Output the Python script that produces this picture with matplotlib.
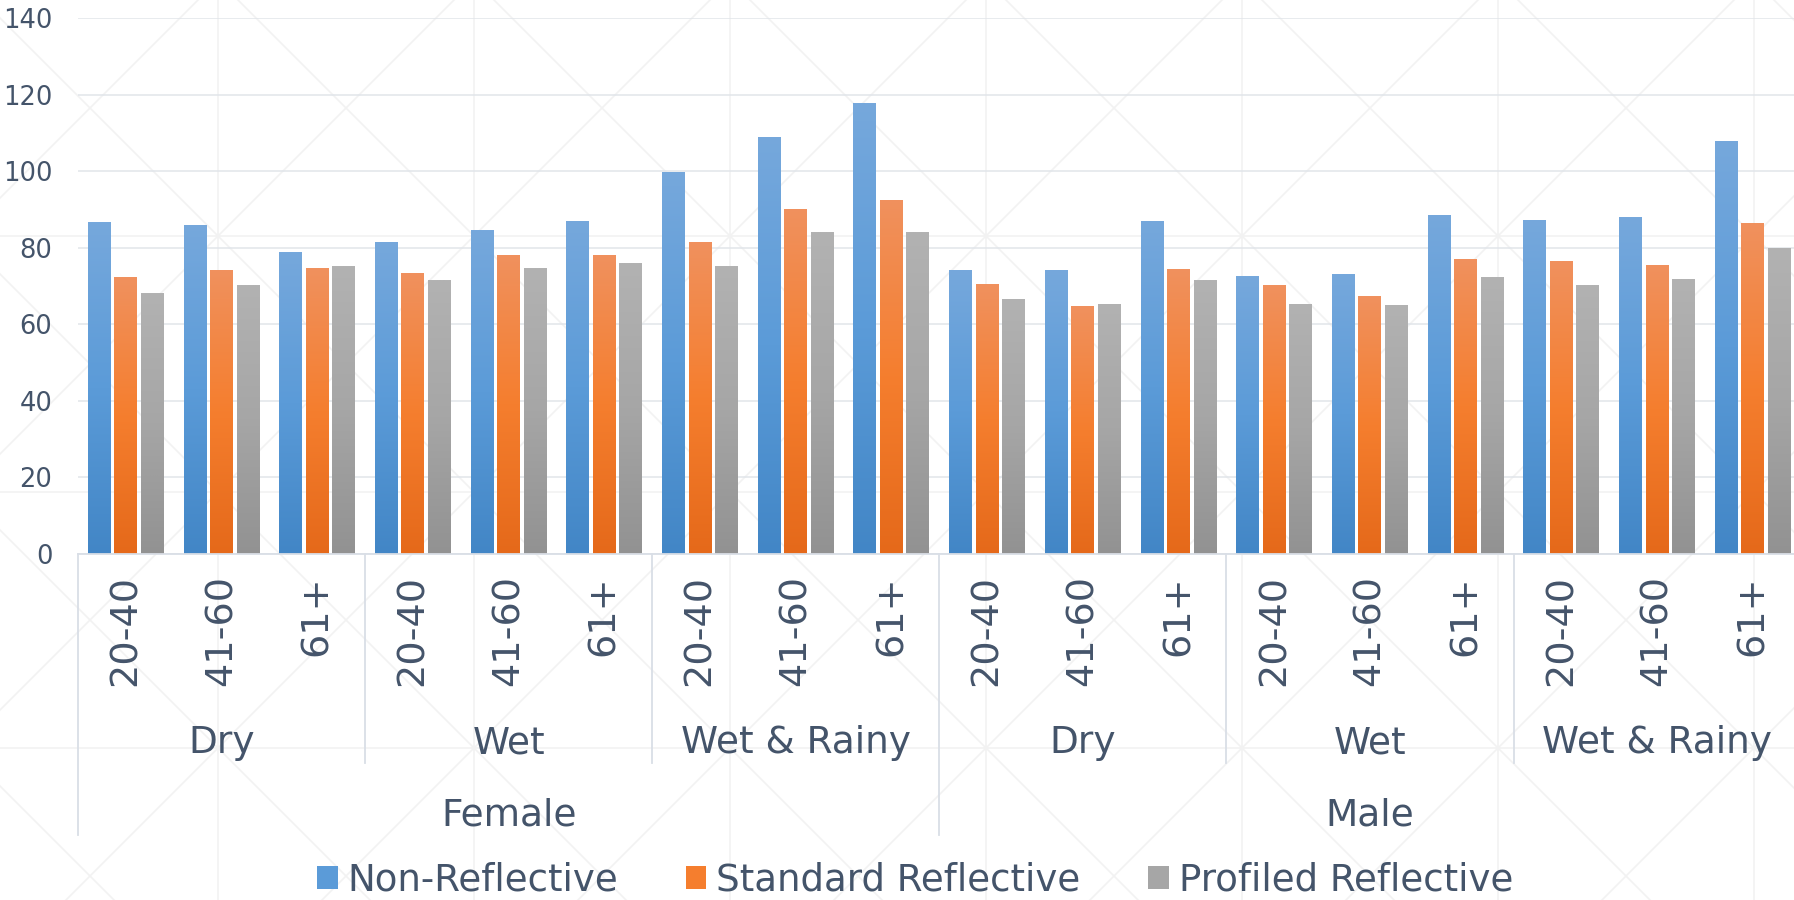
import numpy as np
import matplotlib
matplotlib.use("Agg")
import matplotlib.pyplot as plt
from matplotlib.colors import LinearSegmentedColormap
from matplotlib.lines import Line2D
from matplotlib.patches import Patch
import matplotlib.transforms as mtransforms

# data
genders = ["Female", "Male"]
conditions = ["Dry", "Wet", "Wet & Rainy"]
age_groups = ["20-40", "41-60", "61+"]
series_names = ["Non-Reflective", "Standard Reflective", "Profiled Reflective"]

non_reflective = [86.7, 86.0, 78.8, 81.5, 84.6, 87.0, 99.8, 109.0, 117.7,
                  74.2, 74.2, 87.0, 72.6, 73.1, 88.6, 87.3, 88.0, 108.0]
standard_reflective = [72.3, 74.2, 74.6, 73.3, 78.1, 78.1, 81.5, 90.2, 92.5,
                       70.5, 64.7, 74.4, 70.2, 67.3, 77.1, 76.5, 75.5, 86.4]
profiled_reflective = [68.1, 70.2, 75.2, 71.5, 74.6, 75.9, 75.2, 84.1, 84.1,
                       66.6, 65.4, 71.5, 65.3, 65.0, 72.3, 70.2, 71.8, 80.0]

# gradient colours (bottom, middle, top)
gradients = [
    ("#4286c6", "#5b9bd8", "#76a8dc"),
    ("#e5691a", "#f57e2e", "#f0915e"),
    ("#929292", "#a6a6a6", "#b2b2b2"),
]
text_col = "#44546a"
line_col = "#d9dee6"

W, H = 1794, 900
fig = plt.figure(figsize=(W / 100, H / 100), dpi=100)

# faint background pattern
bg = fig.add_axes([0, 0, 1, 1], zorder=0)
bg.axis("off")
pat = "#f2f2f2"
for k in range(-2, 10):
    bg.axvline(218 + k * 256, color=pat, lw=1.2)
    bg.axhline(236 + k * 256, color=pat, lw=1.2)
for k in range(-6, 12):
    c1 = -18 + k * 256
    bg.plot([0, W], [0 - c1, W - c1], color=pat, lw=1.2)
    c2 = 454 + k * 256
    bg.plot([0, W], [c2, c2 - W], color=pat, lw=1.2)
bg.set_xlim(0, W)
bg.set_ylim(H, 0)

cat_w = 95.7
left = 78 / W
bottom = 1 - 554 / H
top = 1 - 18 / H
ax = fig.add_axes([left, bottom, 18 * cat_w / W, top - bottom], zorder=1)
ax.patch.set_alpha(0)

n = len(non_reflective)
x = np.arange(n)
bw = 0.24
step = 0.277
all_series = [non_reflective, standard_reflective, profiled_reflective]

grad = np.linspace(0, 1, 256).reshape(-1, 1)
for i, vals in enumerate(all_series):
    cmap = LinearSegmentedColormap.from_list("g%d" % i, gradients[i])
    bars = ax.bar(x + (i - 1) * step, vals, width=bw, color=gradients[i][1], zorder=2)
    for p in bars.patches:
        x0, y0 = p.get_x(), p.get_y()
        im = ax.imshow(grad, extent=(x0, x0 + p.get_width(), y0, y0 + p.get_height()),
                       origin="lower", aspect="auto", cmap=cmap, zorder=2.5)
        im.set_clip_path(p)

ax.set_xlim(-0.5, n - 0.5)
ax.set_ylim(0, 140)
ax.set_yticks(range(0, 141, 20))
ax.grid(axis="y", color="#e1e5ea", lw=1.1)
ax.set_axisbelow(True)
for s in ["top", "right", "left"]:
    ax.spines[s].set_visible(False)
ax.spines["bottom"].set_color(line_col)
ax.spines["bottom"].set_linewidth(1.3)
ax.set_xticks([])
ax.tick_params(axis="y", length=0, pad=18.5, labelsize=18.5, labelcolor=text_col)

# hierarchical category labels
trans = mtransforms.blended_transform_factory(ax.transData, fig.transFigure)
def fy(py):
    return 1 - py / H

for j in range(n):
    ax.text(x[j], fy(575), age_groups[j % 3], rotation=90, ha="center", va="top",
            fontsize=27.5, color=text_col, transform=trans)
for g in range(len(genders) * len(conditions)):
    cx = g * 3 + 1
    ax.text(cx, fy(753), conditions[g % 3], ha="center", va="baseline",
            fontsize=27, color=text_col, transform=trans)
for g, name in enumerate(genders):
    ax.text(g * 9 + 4, fy(826), name, ha="center", va="baseline",
            fontsize=27, color=text_col, transform=trans)

for b in [2.5, 5.5, 11.5, 14.5]:
    ax.add_line(Line2D([b, b], [fy(554), fy(763)], color=line_col, lw=1.3,
                       transform=trans, clip_on=False))
for b in [-0.5, 8.5, 17.5]:
    ax.add_line(Line2D([b, b], [fy(554), fy(835)], color=line_col, lw=1.3,
                       transform=trans, clip_on=False))

handles = [Patch(facecolor=gradients[i][1], edgecolor="none") for i in range(3)]
leg = fig.legend(handles, series_names, loc="center", bbox_to_anchor=(915 / W, fy(880)),
                 ncol=3, frameon=False, fontsize=26.7, handlelength=0.56, handleheight=0.6,
                 handletextpad=0.27, columnspacing=1.81)
for t in leg.get_texts():
    t.set_color(text_col)

fig.savefig("out.png", dpi=100)
